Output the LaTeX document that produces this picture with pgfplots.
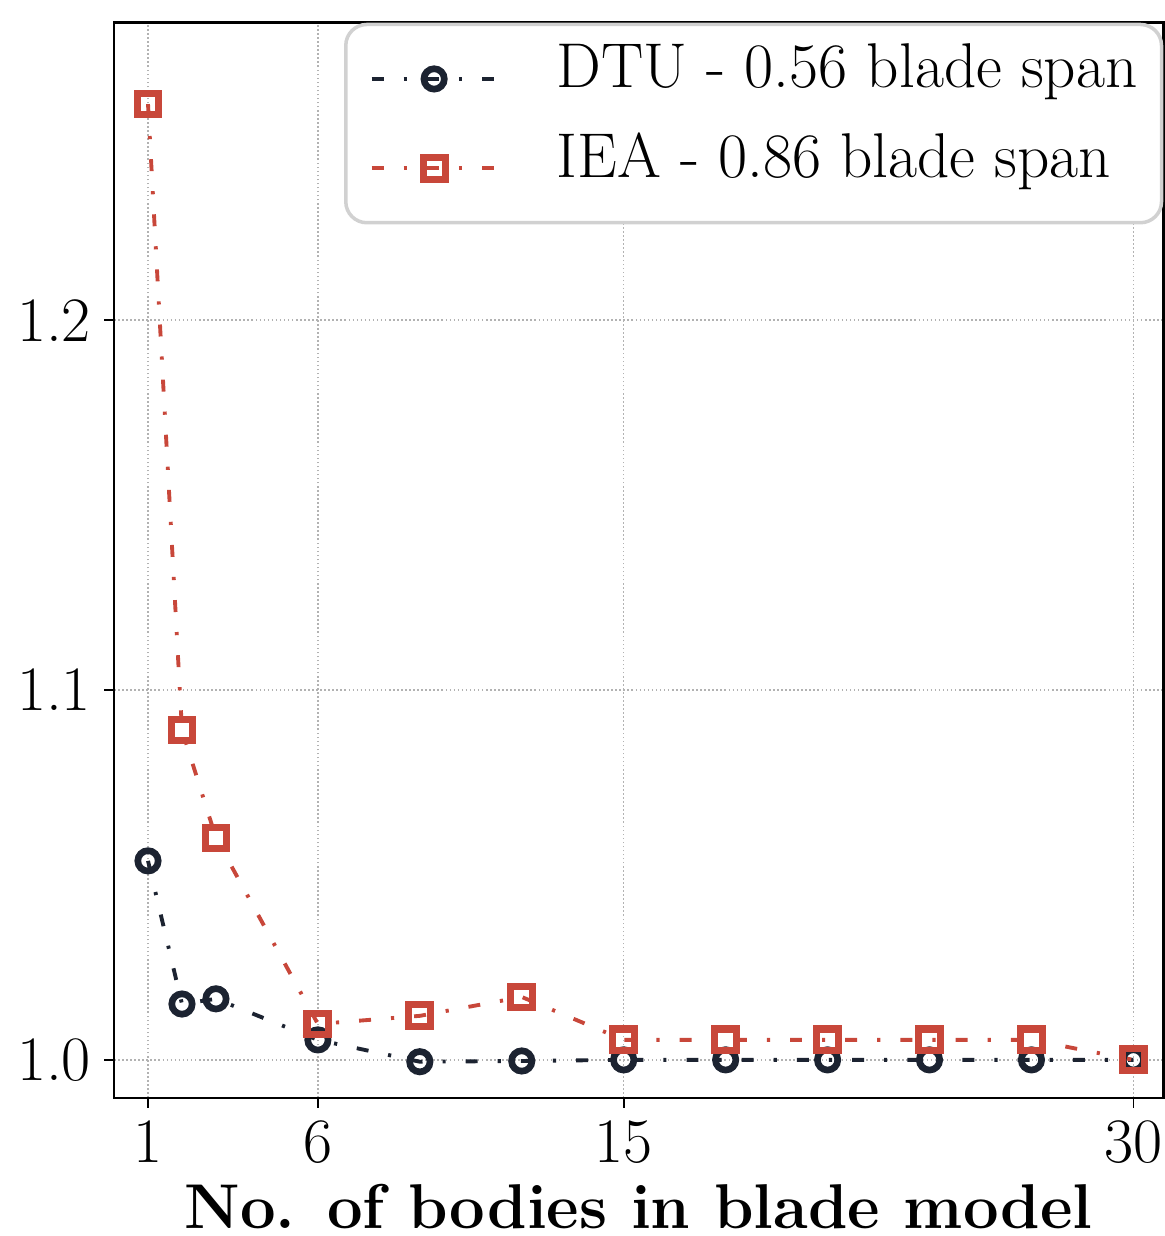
\documentclass[border=0pt]{standalone}
\usepackage{fontspec}
\usepackage{pgfplots}
\pgfplotsset{compat=1.18}
\definecolor{dtu}{HTML}{1C2331}
\definecolor{iea}{HTML}{C8473A}
\begin{document}
\begin{tikzpicture}
\begin{axis}[name=ax, scale only axis, width=10.49cm, height=10.75cm,
  xmin=0, xmax=30.88, ymin=0.9897, ymax=1.2804,
  xtick={1,6,15,30}, ytick={1.0,1.1,1.2},
  yticklabels={1.0,1.1,1.2},
  tick align=outside, xtick pos=bottom, ytick pos=left, major tick length=0.1cm,
  tick style={black, line width=0.5pt},
  axis line style={black, line width=0.75pt},
  grid=major, grid style={draw=black!30, line width=0.45pt, dash pattern=on 0.45pt off 0.7pt},
  ticklabel style={font=\fontsize{18}{21.6}\selectfont, inner sep=3.5pt},
  /pgf/number format/assume math mode=true,
  xlabel={\bfseries No. of bodies in blade model},
  xlabel style={font=\fontsize{18}{21.6}\selectfont, at={(axis description cs:0.5,0)}, anchor=base, yshift=-1.30cm},
  legend style={at={(1,1)}, anchor=north east, draw=black!18, line width=1pt, rounded corners=6pt,
    fill=white, font=\fontsize{18}{21.6}\selectfont, inner xsep=6.8pt, inner ysep=11pt,
    row sep=16.4pt, column sep=0.58cm,
    nodes={inner sep=0pt, text depth=0.2em, text height=0.7em}},
  legend cell align=left,
  legend image code/.code={\draw[mark repeat=2,mark phase=2] plot coordinates {(0cm,0cm)(0.625cm,0cm)(1.25cm,0cm)};},
]
\addplot[color=dtu, line width=1.1pt, dash pattern=on 3.4pt off 5.7pt on 0.9pt off 5.7pt,
  mark=o, mark size=2.9pt, mark options={solid, line width=1.9pt}] coordinates {
  (1,1.0538) (2,1.0151) (3,1.0165) (6,1.0054) (9,0.9995) (12,0.9997)
  (15,1.0) (18,1.0) (21,1.0) (24,1.0) (27,1.0) (30,1.0)};
\addlegendentry{DTU - 0.56 blade span}
\addplot[color=iea, line width=1.1pt, dash pattern=on 3.4pt off 5.7pt on 0.9pt off 5.7pt,
  mark=square, mark size=3.1pt, mark options={solid, line width=2pt}] coordinates {
  (1,1.2584) (2,1.0892) (3,1.0600) (6,1.0097) (9,1.0119) (12,1.0170)
  (15,1.0054) (18,1.0054) (21,1.0054) (24,1.0054) (27,1.0054) (30,1.0)};
\addlegendentry{IEA - 0.86 blade span}
\end{axis}
\pgfresetboundingbox
\path (ax.south west) ++(-1.14cm,-1.38cm) rectangle ([xshift=0.01cm,yshift=0.227cm]ax.north east);
\end{tikzpicture}
\end{document}
